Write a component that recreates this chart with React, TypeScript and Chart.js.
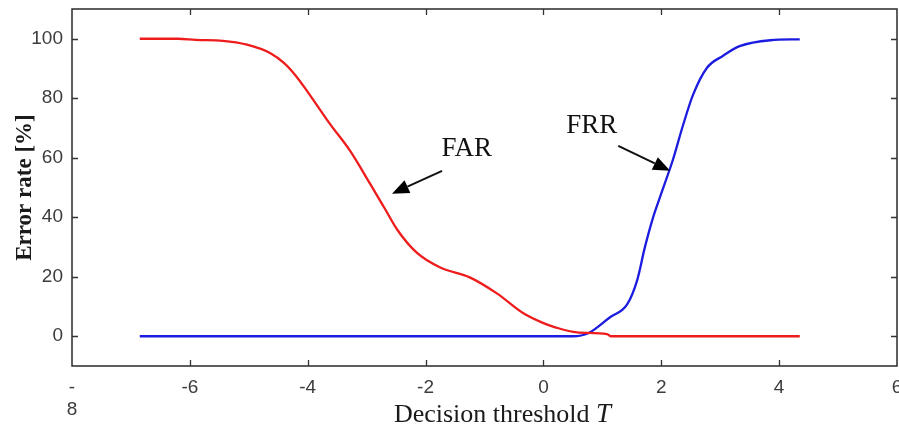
import React, { useEffect, useRef } from 'react';
import { Chart, registerables } from 'chart.js';

Chart.register(...registerables);

// FAR (false acceptance rate) curve, red
const farX = [-6.85, -6.2, -5.9, -5.44, -5.03, -4.64, -4.4, -4.2, -4.01, -3.62, -3.28, -2.94, -2.7, -2.48, -2.15, -1.75, -1.25, -0.79, -0.34, 0.0, 0.2, 0.57, 1.08, 1.15, 4.35];
const farY = [100, 100, 99.6, 99.3, 98, 95.2, 91.8, 87.5, 82.4, 71.3, 62.3, 51.2, 43.2, 35.8, 28.1, 23.1, 19.8, 14.4, 7.7, 4.4, 3.0, 1.3, 0.7, 0, 0];

// FRR (false rejection rate) curve, blue
const frrX = [-6.85, 0.5, 0.76, 1.13, 1.42, 1.59, 1.72, 1.86, 2.0, 2.2, 2.37, 2.54, 2.77, 3.05, 3.33, 3.85, 4.35];
const frrY = [0, 0, 1, 6.4, 10.7, 18.8, 29.8, 39.9, 48, 59.5, 71, 81.2, 90.1, 94.3, 97.5, 99.5, 99.8];

const xTicks = [-8, -6, -4, -2, 0, 2, 4, 6];
const yTicks = [0, 20, 40, 60, 80, 100];
const xRange = [-8, 6];
const yRange = [-10, 110];

const xTitle = 'Decision threshold ';
const xTitleVar = 'T';
const yTitle = 'Error rate [%]';

const annotationLabels = ['FAR', 'FRR'];
const annotationTextX = [-1.3, 0.82];
const annotationTextY = [60.6, 68.3];
const arrowFromX = [-1.72, 1.27];
const arrowFromY = [55.6, 64];
const arrowToX = [-2.57, 2.15];
const arrowToY = [47.9, 55.6];

const tickFont = '"Liberation Sans", Arial, sans-serif';
const serif = '"Liberation Serif", "Times New Roman", serif';

const decorPlugin = {
  id: 'decor',
  afterDraw(chart: any) {
    const { ctx, chartArea, scales } = chart;
    const { left, right, top, bottom } = chartArea;
    const xs = scales.x;
    const ys = scales.y;
    ctx.save();
    // frame
    ctx.strokeStyle = '#2a2a2a';
    ctx.lineWidth = 1.5;
    ctx.strokeRect(left, top, right - left, bottom - top);
    // inward ticks
    ctx.lineWidth = 1.3;
    ctx.strokeStyle = '#333';
    const tl = 6;
    ctx.beginPath();
    xTicks.forEach((v) => {
      if (v <= xRange[0] || v >= xRange[1]) return;
      const px = Math.round(xs.getPixelForValue(v)) + 0.5;
      ctx.moveTo(px, bottom);
      ctx.lineTo(px, bottom - tl);
      ctx.moveTo(px, top);
      ctx.lineTo(px, top + tl);
    });
    yTicks.forEach((v) => {
      const py = Math.round(ys.getPixelForValue(v)) + 0.5;
      ctx.moveTo(left, py);
      ctx.lineTo(left + tl, py);
      ctx.moveTo(right, py);
      ctx.lineTo(right - tl, py);
    });
    ctx.stroke();

    // axis titles
    ctx.fillStyle = '#1a1a1a';
    ctx.textBaseline = 'alphabetic';
    ctx.font = `26px ${serif}`;
    const w1 = ctx.measureText(xTitle).width;
    ctx.font = `italic 27px ${serif}`;
    const w2 = ctx.measureText(xTitleVar).width;
    const cx = (left + right) / 2 + 18;
    const startX = cx - (w1 + w2) / 2;
    ctx.textAlign = 'left';
    ctx.font = `26px ${serif}`;
    ctx.fillText(xTitle, startX, 422);
    ctx.font = `italic 27px ${serif}`;
    ctx.fillText(xTitleVar, startX + w1, 422);

    ctx.save();
    ctx.translate(25, (top + bottom) / 2);
    ctx.rotate(-Math.PI / 2);
    ctx.textAlign = 'center';
    ctx.textBaseline = 'middle';
    ctx.font = `bold 23px ${serif}`;
    ctx.fillText(yTitle, 0, 0);
    ctx.restore();

    // annotations with arrows
    annotationLabels.forEach((label, i) => {
      ctx.font = `27px ${serif}`;
      ctx.textAlign = 'center';
      ctx.textBaseline = 'alphabetic';
      ctx.fillStyle = '#111';
      ctx.fillText(label, xs.getPixelForValue(annotationTextX[i]), ys.getPixelForValue(annotationTextY[i]));
      const x0 = xs.getPixelForValue(arrowFromX[i]);
      const y0 = ys.getPixelForValue(arrowFromY[i]);
      const x1 = xs.getPixelForValue(arrowToX[i]);
      const y1 = ys.getPixelForValue(arrowToY[i]);
      const ang = Math.atan2(y1 - y0, x1 - x0);
      const hl = 17;
      const hw = 7;
      const bx = x1 - hl * Math.cos(ang);
      const by = y1 - hl * Math.sin(ang);
      ctx.strokeStyle = '#111';
      ctx.lineWidth = 2;
      ctx.beginPath();
      ctx.moveTo(x0, y0);
      ctx.lineTo(bx, by);
      ctx.stroke();
      ctx.beginPath();
      ctx.moveTo(x1, y1);
      ctx.lineTo(bx + hw * Math.sin(ang), by - hw * Math.cos(ang));
      ctx.lineTo(bx - hw * Math.sin(ang), by + hw * Math.cos(ang));
      ctx.closePath();
      ctx.fillStyle = '#000';
      ctx.fill();
    });
    ctx.restore();
  },
};

export default function App() {
  const ref = useRef<HTMLCanvasElement | null>(null);
  useEffect(() => {
    if (!ref.current) return;
    const chart = new Chart(ref.current, {
      type: 'line',
      data: {
        datasets: [
          {
            label: 'FAR',
            data: farX.map((x, i) => ({ x, y: farY[i] })),
            borderColor: '#ee1c1c',
            borderWidth: 2.3,
            pointRadius: 0,
            cubicInterpolationMode: 'monotone',
            fill: false,
          },
          {
            label: 'FRR',
            data: frrX.map((x, i) => ({ x, y: frrY[i] })),
            borderColor: '#1c1ce0',
            borderWidth: 2.3,
            pointRadius: 0,
            cubicInterpolationMode: 'monotone',
            fill: false,
          },
        ],
      },
      options: {
        responsive: false,
        animation: false,
        events: [],
        layout: { padding: { top: 9, right: 2, left: 0, bottom: 0 } },
        plugins: { legend: { display: false }, tooltip: { enabled: false } },
        scales: {
          x: {
            type: 'linear',
            min: xRange[0],
            max: xRange[1],
            afterBuildTicks: (s: any) => {
              s.ticks = xTicks.map((v) => ({ value: v }));
            },
            afterFit: (s: any) => {
              s.height = 66;
              s.paddingLeft = 0;
              s.paddingRight = 0;
            },
            grid: { display: false, drawTicks: false },
            border: { display: false },
            ticks: {
              autoSkip: false,
              maxRotation: 0,
              padding: 10,
              color: '#3c3c3c',
              font: { family: tickFont, size: 19 },
              callback: (v: any) => (v === -8 ? ['-', '8'] : String(v)),
            },
          },
          y: {
            type: 'linear',
            min: yRange[0],
            max: yRange[1],
            afterBuildTicks: (s: any) => {
              s.ticks = yTicks.map((v) => ({ value: v }));
            },
            afterFit: (s: any) => {
              s.width = 72;
              s.paddingTop = 0;
              s.paddingBottom = 0;
            },
            grid: { display: false, drawTicks: false },
            border: { display: false },
            ticks: {
              padding: 9,
              color: '#3c3c3c',
              font: { family: tickFont, size: 19 },
              callback: (v: any) => String(v),
            },
          },
        },
      },
      plugins: [decorPlugin],
    } as any);
    return () => chart.destroy();
  }, []);
  return (
    <div style={{ position: 'fixed', left: 0, top: 0, width: 899, height: 432, background: '#fff' }}>
      <canvas ref={ref} width={899} height={432} style={{ display: 'block' }} />
    </div>
  );
}
